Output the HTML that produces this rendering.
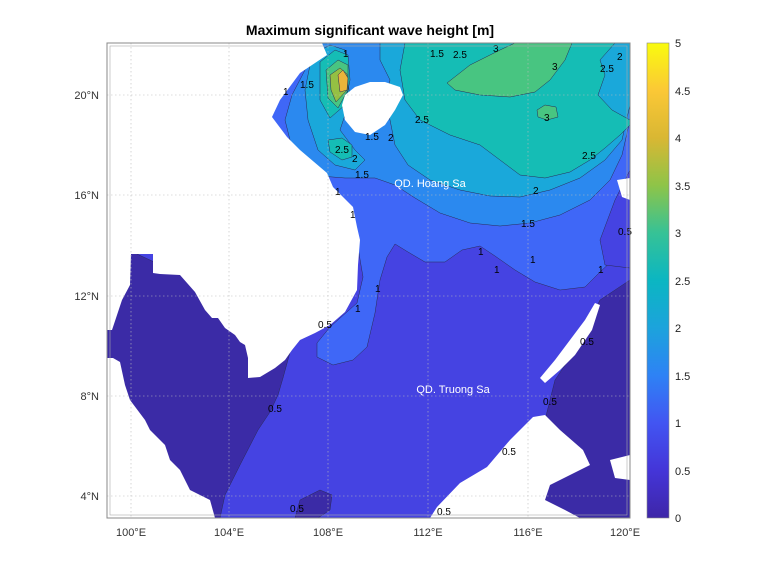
<!DOCTYPE html>
<html><head><meta charset="utf-8"><style>
body{margin:0;background:#fff;}
svg text{font-family:"Liberation Sans",sans-serif;}
</style></head><body>
<svg width="778" height="583" viewBox="0 0 778 583" xmlns="http://www.w3.org/2000/svg">
<defs>
<linearGradient id="par" x1="0" y1="1" x2="0" y2="0">
<stop offset="0" stop-color="#3e26a8"/>
<stop offset="0.1" stop-color="#4435d8"/>
<stop offset="0.2" stop-color="#4255f2"/>
<stop offset="0.3" stop-color="#2e82f5"/>
<stop offset="0.4" stop-color="#1ca3dc"/>
<stop offset="0.5" stop-color="#0bb6c2"/>
<stop offset="0.6" stop-color="#36c296"/>
<stop offset="0.7" stop-color="#8ec448"/>
<stop offset="0.8" stop-color="#d9b733"/>
<stop offset="0.9" stop-color="#fbc836"/>
<stop offset="1" stop-color="#f9fb0e"/>
</linearGradient>
<clipPath id="cp"><rect x="107" y="43" width="523" height="475"/></clipPath>
</defs>
<text x="370" y="35" text-anchor="middle" font-size="14" font-weight="bold">Maximum significant wave height [m]</text>
<g clip-path="url(#cp)" stroke="#2a2a55" stroke-width="0.5">
<rect x="107" y="43" width="523" height="475" fill="#4543e2" stroke="none"/>
<polygon fill="#3b2ba6" points="107,240 300,330 292,345 283,378 278,395 270,412 258,430 240,465 225,495 220,518 107,518"/>
<polygon fill="#3b2ba6" points="300,500 320,490 332,495 330,510 318,518 295,518"/>
<polygon fill="#3b2ba6" points="630,280 600,300 575,350 555,380 545,420 540,450 520,470 490,490 460,505 440,518 630,518"/>
<polygon fill="#3f67f7" points="107,43 630,43 630,250 615,258 600,272 585,287 560,290 535,282 515,270 495,256 480,246 462,250 445,262 425,262 408,252 395,244 387,257 380,280 375,313 367,347 353,360 333,365 317,357 317,343 330,327 357,303 363,277 355,230 107,230"/>
<polygon fill="#4543e2" points="630,170 615,200 600,240 605,265 630,268"/>
<polygon fill="#2b89ef" points="300,43 630,43 630,120 622,155 610,180 590,200 560,215 530,223 500,226 470,223 440,213 415,198 395,185 375,178 345,178 320,176 300,162 290,140 285,120 292,95 305,70 310,55"/>
<polygon fill="#1aa8da" points="380,43 630,43 630,105 622,140 605,160 580,178 550,190 520,197 490,196 460,190 430,180 408,165 395,145 390,120 385,100 390,80 380,60"/>
<polygon fill="#1aa8da" points="312,55 330,45 345,50 350,100 340,130 355,150 365,160 355,170 335,165 318,150 308,120 305,90"/>
<polygon fill="#15bdb5" points="405,43 615,43 600,60 605,75 598,95 612,110 630,120 630,125 620,135 605,148 590,160 570,172 545,178 520,175 500,160 480,145 450,135 420,120 405,100 400,70"/>
<polygon fill="#15bdb5" points="328,140 342,138 352,145 352,157 342,160 330,152"/>
<polygon fill="#15bdb5" points="320,62 335,50 348,55 350,80 345,105 330,118 320,100"/>
<polygon fill="#48c581" points="447,83 470,65 500,50 515,43 572,43 565,60 550,80 535,92 510,97 480,95 455,90"/>
<polygon fill="#48c581" points="537,110 545,105 556,107 558,117 547,120 538,117"/>
<polygon fill="#48c581" points="326,70 338,60 348,65 348,90 338,108 328,98"/>
<polygon fill="#95c043" points="330,75 340,68 347,74 347,90 336,102 331,90"/>
<polygon fill="#eab43a" points="338,75 343,70 348,78 347,90 340,92"/>
<g fill="#fff" stroke="none">
<polygon points="107,43 322,43 327,55 300,73 280,100 272,117 287,137 300,150 327,173 333,187 353,207 357,227 360,240 358,265 357,290 345,312 330,325 315,333 300,340 292,350 285,360 275,368 260,377 248,378 248,358 245,345 240,342 235,335 225,328 218,318 212,318 205,310 195,292 180,275 160,274 153,273 153,254 131,254 130,285 122,300 112,330 107,330"/>
<polygon points="107,358 113,358 120,362 125,385 130,400 145,420 150,430 165,445 170,460 180,470 190,490 210,500 215,518 107,518"/>
<polygon points="342,105 345,95 355,87 370,82 385,82 400,87 403,95 395,110 385,125 370,135 355,132 345,120"/>
<polygon points="617,180 630,178 630,200 622,197"/>
<polygon points="600,305 592,330 575,355 560,370 545,383 540,378 555,360 570,340 585,320 595,303"/>
<polygon points="430,518 437,507 460,483 487,467 510,440 533,417 545,415 560,430 583,450 590,465 570,475 550,485 545,500 565,510 580,518"/>
<polygon points="610,460 630,455 630,480 615,478"/>
</g>
</g>
<g stroke="#bbb" stroke-width="0.6" stroke-dasharray="1.5,2.5">
<line x1="131" y1="43" x2="131" y2="518"/><line x1="229" y1="43" x2="229" y2="518"/><line x1="328" y1="43" x2="328" y2="518"/><line x1="428" y1="43" x2="428" y2="518"/><line x1="528" y1="43" x2="528" y2="518"/>
<line x1="107" y1="95" x2="630" y2="95"/><line x1="107" y1="195" x2="630" y2="195"/><line x1="107" y1="296" x2="630" y2="296"/><line x1="107" y1="396" x2="630" y2="396"/><line x1="107" y1="496" x2="630" y2="496"/>
</g>
<g font-size="10" fill="#000">
<text x="343" y="57">1</text><text x="300" y="88">1.5</text><text x="283" y="95">1</text>
<text x="430" y="57">1.5</text><text x="453" y="58">2.5</text><text x="493" y="52">3</text>
<text x="552" y="70">3</text><text x="544" y="121">3</text><text x="600" y="72">2.5</text><text x="617" y="60">2</text>
<text x="415" y="123">2.5</text><text x="365" y="140">1.5</text><text x="388" y="141">2</text>
<text x="335" y="153">2.5</text><text x="352" y="162">2</text><text x="355" y="178">1.5</text>
<text x="582" y="159">2.5</text><text x="533" y="194">2</text><text x="521" y="227">1.5</text>
<text x="478" y="255">1</text><text x="530" y="263">1</text><text x="494" y="273">1</text><text x="598" y="273">1</text>
<text x="335" y="195">1</text><text x="350" y="218">1</text><text x="375" y="292">1</text><text x="355" y="312">1</text>
<text x="318" y="328">0.5</text><text x="268" y="412">0.5</text><text x="580" y="345">0.5</text>
<text x="543" y="405">0.5</text><text x="502" y="455">0.5</text><text x="290" y="512">0.5</text><text x="437" y="515">0.5</text>
<text x="618" y="235">0.5</text>
</g>
<text x="430" y="187" text-anchor="middle" font-size="11" fill="#fff">QD. Hoang Sa</text>
<text x="453" y="393" text-anchor="middle" font-size="11" fill="#fff">QD. Truong Sa</text>
<rect x="107" y="43" width="523" height="475" fill="none" stroke="#888" stroke-width="1"/>
<rect x="110" y="46" width="517" height="469" fill="none" stroke="#aaa" stroke-width="0.6"/>
<g font-size="11" fill="#333">
<text x="131" y="536" text-anchor="middle">100°E</text><text x="229" y="536" text-anchor="middle">104°E</text><text x="328" y="536" text-anchor="middle">108°E</text><text x="428" y="536" text-anchor="middle">112°E</text><text x="528" y="536" text-anchor="middle">116°E</text><text x="625" y="536" text-anchor="middle">120°E</text>
<text x="99" y="99" text-anchor="end">20°N</text><text x="99" y="199" text-anchor="end">16°N</text><text x="99" y="300" text-anchor="end">12°N</text><text x="99" y="400" text-anchor="end">8°N</text><text x="99" y="500" text-anchor="end">4°N</text>
</g>
<rect x="647" y="43" width="22" height="475" fill="url(#par)" stroke="#888" stroke-width="0.6"/>
<g font-size="11" fill="#222">
<text x="675" y="522">0</text><text x="675" y="475">0.5</text><text x="675" y="427">1</text><text x="675" y="380">1.5</text><text x="675" y="332">2</text><text x="675" y="285">2.5</text><text x="675" y="237">3</text><text x="675" y="190">3.5</text><text x="675" y="142">4</text><text x="675" y="95">4.5</text><text x="675" y="47">5</text>
</g>
</svg>
</body></html>
